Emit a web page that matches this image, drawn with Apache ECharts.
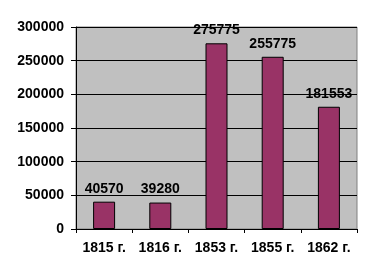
<!DOCTYPE html>
<html><head><meta charset="utf-8">
<script src="https://cdn.jsdelivr.net/npm/echarts@6/dist/echarts.min.js"></script>
<style>html,body{margin:0;padding:0;background:#fff}#c{width:372px;height:276px}</style>
</head><body><div id="c"></div>
<script>
const categories = ['1815 г.', '1816 г.', '1853 г.', '1855 г.', '1862 г.'];
const values = [40570, 39280, 275775, 255775, 181553];
const yMin = 0, yMax = 300000, yStep = 50000;

const chart = echarts.init(document.getElementById('c'), null, {renderer: 'canvas'});
const font = {fontFamily: 'Liberation Sans, Arial, sans-serif', fontWeight: 'bold', fontSize: 14, color: '#000'};
chart.setOption({
  animation: false,
  grid: {left: 76, right: 15, top: 27, bottom: 47, show: true, backgroundColor: '#c0c0c0', borderColor: '#808080', borderWidth: 1},
  xAxis: {
    type: 'category', data: categories,
    axisLine: {lineStyle: {color: '#000', width: 1}},
    axisTick: {show: true, inside: false, length: 4, alignWithLabel: false, lineStyle: {color: '#000'}},
    axisLabel: Object.assign({margin: 12, interval: 0, hideOverlap: false}, font)
  },
  yAxis: {
    type: 'value', min: yMin, max: yMax, interval: yStep,
    axisLine: {show: true, lineStyle: {color: '#000', width: 1}},
    axisTick: {show: true, length: 5, lineStyle: {color: '#000'}},
    splitLine: {lineStyle: {color: '#000', width: 1}},
    axisLabel: Object.assign({margin: 12, formatter: v => String(v)}, font)
  },
  series: [{
    type: 'bar', data: values, barWidth: 22,
    itemStyle: {color: '#993366', borderColor: '#000', borderWidth: 1},
    label: Object.assign({show: true, position: 'top', distance: 6}, font)
  }]
});
</script></body></html>
